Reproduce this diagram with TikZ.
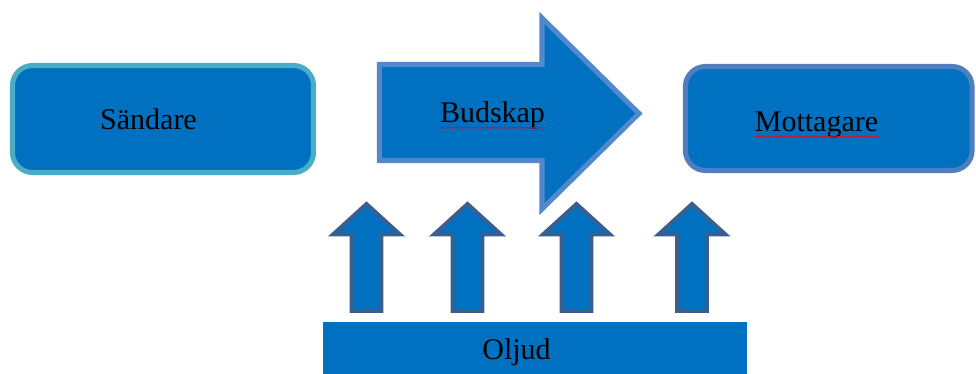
\documentclass[tikz,border=0pt]{standalone}
\usepackage{fontspec}
\setmainfont{Liberation Serif}
\usetikzlibrary{decorations.pathmorphing}
\definecolor{shapeBlue}{HTML}{0070C0}
\definecolor{senderRim}{HTML}{4BACC6}
\definecolor{messageRim}{HTML}{5288CC}
\definecolor{receiverRim}{HTML}{4F7FBE}
\definecolor{noiseRim}{HTML}{3A5F8E}
\newcommand\rimWidth{4.3pt}
\newcommand\noiseRimWidth{3.4pt}
\newcommand\boxRadius{0.6cm}
\newcommand\textSender{Sändare}
\newcommand\textMessage{Budskap}
\newcommand\textReceiver{Mottagare}
\newcommand\textNoise{Oljud}

\begin{document}
\begin{tikzpicture}[x=0.03cm, y=-0.03cm,
    label/.style={inner sep=0pt, anchor=base, text=black, font=\fontsize{25.6}{30}\selectfont},
    squiggle/.style={red, line width=0.5pt, decorate, decoration={snake, amplitude=0.5pt, segment length=2.2pt}}]

    \useasboundingbox (0,0) rectangle (976,374);

    % sender and receiver boxes
    \node [draw=senderRim, fill=shapeBlue, line width=\rimWidth, rounded corners=\boxRadius, shape=rectangle, inner sep=0pt, minimum width=9.03cm, minimum height=3.21cm, anchor=center] (sender_box) at (163,119) {};
    \node [draw=receiverRim, fill=shapeBlue, line width=\rimWidth, rounded corners=\boxRadius, shape=rectangle, inner sep=0pt, minimum width=8.6cm, minimum height=3.12cm, anchor=center] (receiver_box) at (828.75,118.5) {};

    % big message arrow
    \draw [draw=messageRim, fill=shapeBlue, line width=\rimWidth, line join=miter]
        (379.5,64.5) -- (542,64.5) -- (542,18) -- (639,113.5) -- (542,209) -- (542,160.5) -- (379.5,160.5) -- cycle;

    % noise bar and the arrows rising from it
    \fill [shapeBlue] (323,322) rectangle (747,380);
    \foreach \cx in {366.5,467.5,576.5,692}{
        \draw [draw=noiseRim, fill=shapeBlue, line width=\noiseRimWidth, line join=miter]
            (\cx-15,311) -- (\cx-15,234.5) -- (\cx-33.5,234.5) -- (\cx,204) -- (\cx+33.5,234.5) -- (\cx+15,234.5) -- (\cx+15,311) -- cycle;
    }

    % texts
    \node [label] (sender) at (148.5,130) {\textSender};
    \node [label] (message) at (492.5,123) {\textMessage};
    \node [label] (receiver) at (816.5,132) {\textReceiver};
    \node [label] (noise) at (516.5,360) {\textNoise};

    % spelling marks
    \draw [squiggle] ([yshift=-4pt]message.base west) -- ([yshift=-4pt]message.base east);
    \draw [squiggle] ([yshift=-4pt]receiver.base west) -- ([yshift=-4pt]receiver.base east);

\end{tikzpicture}
\end{document}
